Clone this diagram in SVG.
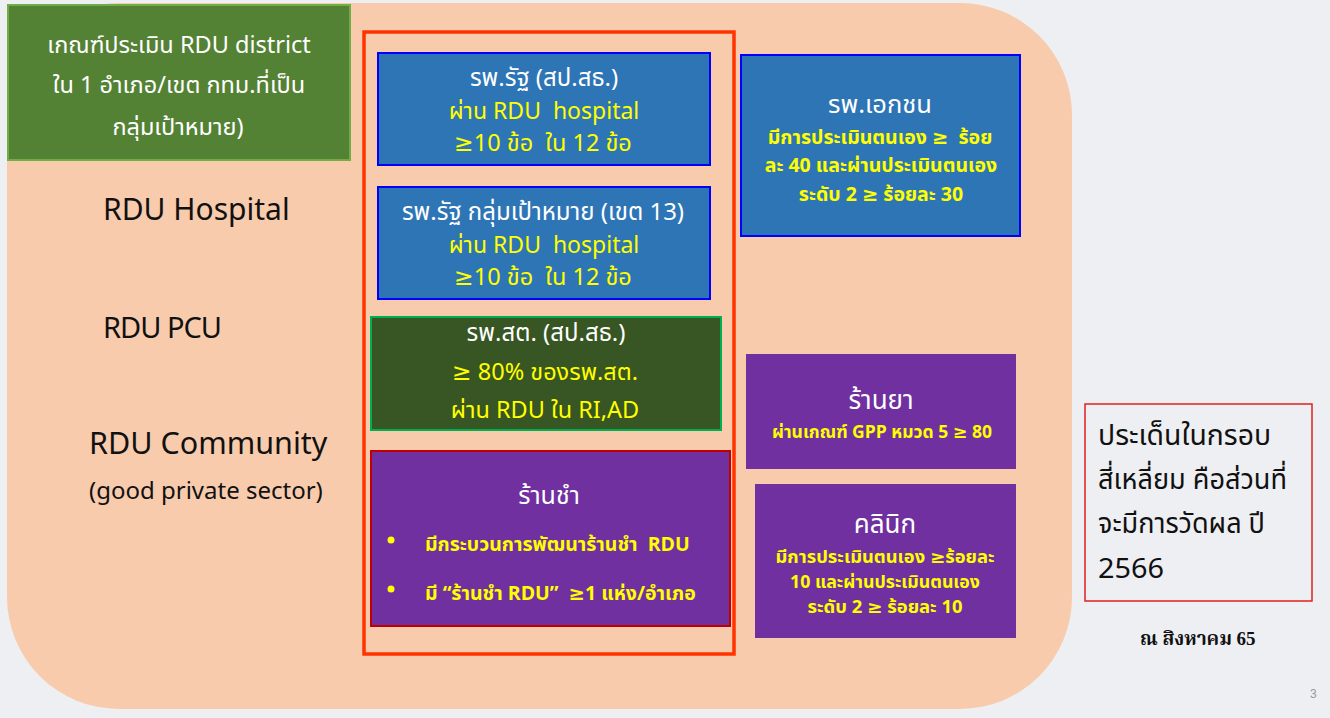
<svg xmlns="http://www.w3.org/2000/svg" width="1330" height="718" viewBox="0 0 1330 718">
<style>
.th{font-family:"Noto Sans Thai","Leelawadee UI","Tahoma","Noto Sans","DejaVu Sans",sans-serif;white-space:pre}
.w{fill:#ffffff}
.y{fill:#ffff00}
.lbl{fill:#111111;font-family:"Noto Sans Thai","Open Sans","Noto Sans",sans-serif}
.blue{fill:#2E75B6;stroke:#0000FF;stroke-width:2}
.purp{fill:#7030A0}
</style>
<rect x="0" y="0" width="1330" height="718" fill="#eeeff2"/>
<rect x="7" y="3" width="1065" height="706" rx="112" ry="112" fill="#F8CBAD"/>

<g id="criteria">
<rect x="8" y="5" width="342" height="155" fill="#548235" stroke="#70AD47" stroke-width="2"/>
<text class="th w" font-size="23.5" text-anchor="middle" x="179" y="53">เกณฑ์ประเมิน RDU district</text>
<text class="th w" font-size="23.5" text-anchor="middle" x="179" y="93">ใน 1 อำเภอ/เขต กทม.ที่เป็น</text>
<text class="th w" font-size="23.5" text-anchor="middle" x="178" y="135">กลุ่มเป้าหมาย)</text>
</g>

<g id="row-labels">
<text class="lbl" font-size="30" x="103" y="220">RDU Hospital</text>
<text class="lbl" font-size="29" x="103" y="338" letter-spacing="-1">RDU PCU</text>
<text class="lbl" font-size="30.5" x="89" y="454">RDU Community</text>
<text class="lbl" font-size="24" x="89" y="499" fill="#333333">(good private sector)</text>
</g>

<g id="measured-frame">
<rect x="364" y="32" width="370" height="622" fill="none" stroke="#FF3300" stroke-width="3.5"/>
</g>

<g id="gov-hospital">
<rect class="blue" x="378" y="53" width="332" height="112"/>
<text class="th w" font-size="24" text-anchor="middle" x="544" y="86">รพ.รัฐ (สป.สธ.)</text>
<text class="th y" font-size="23" text-anchor="middle" x="544" y="119">ผ่าน RDU  hospital</text>
<text class="th y" font-size="23.5" text-anchor="middle" x="543" y="151">≥10 ข้อ  ใน 12 ข้อ</text>
</g>

<g id="gov-hospital-target">
<rect class="blue" x="378" y="187" width="332" height="112"/>
<text class="th w" font-size="24" text-anchor="middle" x="543" y="220">รพ.รัฐ กลุ่มเป้าหมาย (เขต 13)</text>
<text class="th y" font-size="23" text-anchor="middle" x="544" y="253">ผ่าน RDU  hospital</text>
<text class="th y" font-size="23.5" text-anchor="middle" x="543" y="285">≥10 ข้อ  ใน 12 ข้อ</text>
</g>

<g id="pcu">
<rect x="371" y="317" width="350" height="113" fill="#375623" stroke="#00B050" stroke-width="2"/>
<text class="th w" font-size="24" text-anchor="middle" x="546" y="341">รพ.สต. (สป.สธ.)</text>
<text class="th y" font-size="23.5" text-anchor="middle" x="545" y="380">≥ 80% ของรพ.สต.</text>
<text class="th y" font-size="23.5" text-anchor="middle" x="545" y="418">ผ่าน RDU ใน RI,AD</text>
</g>

<g id="grocery">
<rect x="371" y="451" width="359" height="175" fill="#7030A0" stroke="#C00000" stroke-width="2"/>
<text class="th w" font-size="25" text-anchor="middle" x="549" y="504">ร้านชำ</text>
<circle cx="391" cy="540" r="3.5" fill="#ffff00"/>
<text class="th y" font-size="19.5" font-weight="bold" x="425" y="551">มีกระบวนการพัฒนาร้านชำ  RDU</text>
<circle cx="391" cy="589" r="3.5" fill="#ffff00"/>
<text class="th y" font-size="19.5" font-weight="bold" x="425" y="600">มี “ร้านชำ RDU”  ≥1 แห่ง/อำเภอ</text>
</g>

<g id="private-hospital">
<rect class="blue" x="741" y="55" width="279" height="181"/>
<text class="th w" font-size="25.5" text-anchor="middle" x="880" y="113">รพ.เอกชน</text>
<text class="th y" font-size="19.5" font-weight="bold" text-anchor="middle" x="880" y="144">มีการประเมินตนเอง ≥  ร้อย</text>
<text class="th y" font-size="19.5" font-weight="bold" text-anchor="middle" x="881" y="172">ละ 40 และผ่านประเมินตนเอง</text>
<text class="th y" font-size="19.5" font-weight="bold" text-anchor="middle" x="881" y="201">ระดับ 2 ≥ ร้อยละ 30</text>
</g>

<g id="pharmacy">
<rect class="purp" x="746" y="354" width="270" height="115"/>
<text class="th w" font-size="26" text-anchor="middle" x="881" y="409">ร้านยา</text>
<text class="th y" font-size="17.5" font-weight="bold" text-anchor="middle" x="882" y="438">ผ่านเกณฑ์ GPP หมวด 5 ≥ 80</text>
</g>

<g id="clinic">
<rect class="purp" x="755" y="484" width="261" height="154"/>
<text class="th w" font-size="26" text-anchor="middle" x="885" y="533">คลินิก</text>
<text class="th y" font-size="17" font-weight="bold" text-anchor="middle" x="885" y="563" textLength="219" lengthAdjust="spacingAndGlyphs">มีการประเมินตนเอง ≥ร้อยละ</text>
<text class="th y" font-size="17" font-weight="bold" text-anchor="middle" x="885" y="588" textLength="190" lengthAdjust="spacingAndGlyphs">10 และผ่านประเมินตนเอง</text>
<text class="th y" font-size="17" font-weight="bold" text-anchor="middle" x="885" y="613" textLength="155" lengthAdjust="spacingAndGlyphs">ระดับ 2 ≥ ร้อยละ 10</text>
</g>

<g id="note">
<rect x="1085" y="404" width="227" height="197" fill="none" stroke="#E02020" stroke-width="1.5"/>
<text class="th" fill="#111111" font-size="28" x="1098" y="445" textLength="173" lengthAdjust="spacingAndGlyphs">ประเด็นในกรอบ</text>
<text class="th" fill="#111111" font-size="28" x="1098" y="489" textLength="189" lengthAdjust="spacingAndGlyphs">สี่เหลี่ยม คือส่วนที่</text>
<text class="th" fill="#111111" font-size="28" x="1098" y="533" textLength="167" lengthAdjust="spacingAndGlyphs">จะมีการวัดผล ปี</text>
<text class="th" fill="#111111" font-size="28" x="1098" y="578" textLength="66" lengthAdjust="spacingAndGlyphs">2566</text>
</g>

<text font-family="'Liberation Serif','Noto Serif Thai','Noto Sans Thai',serif" font-weight="bold" font-size="19" fill="#111111" x="1140" y="645">ณ สิงหาคม 65</text>
<text font-family="'Liberation Sans',sans-serif" font-size="12" fill="#999999" x="1310" y="698">3</text>
</svg>
